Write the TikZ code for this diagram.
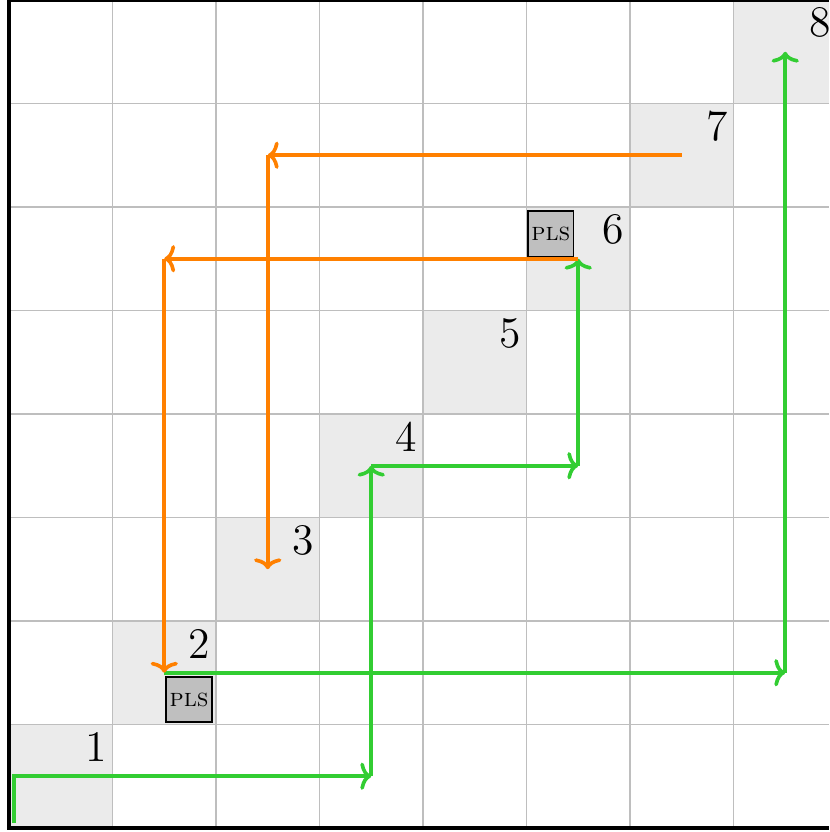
\documentclass[tikz,border=0pt]{standalone}
\usetikzlibrary{arrows.meta}
\definecolor{pgreen}{RGB}{50,205,50}
\definecolor{porange}{RGB}{255,128,0}
\definecolor{cellgray}{RGB}{235,235,235}
\definecolor{gridgray}{RGB}{190,190,190}
\definecolor{plsgray}{RGB}{191,191,191}
\begin{document}
\begin{tikzpicture}[x=1cm,y=1cm,
  numlabel/.style={font=\large, inner sep=0pt},
  plsbox/.style={draw=black, fill=plsgray, minimum size=0.44cm, inner sep=0pt, font=\scriptsize, line width=0.5pt},
  garrow/.style={draw=pgreen, line width=1pt, -{To[length=3pt,width=7.5pt]}},
  oarrow/.style={draw=porange, line width=1pt, -{To[length=3pt,width=7.5pt]}}]
\useasboundingbox (-0.087,-0.039) rectangle (7.923,8.0);
\clip (-0.087,-0.039) rectangle (7.923,8.0);
\foreach \i in {0,...,7} \fill[cellgray] (\i,\i) rectangle ++(1,1);
\draw[gridgray, line width=0.5pt] (0,0) grid (8,8);
\draw[black, line width=0.9pt] (0,0) rectangle (8,8);
\foreach \i [evaluate=\i as \n using int(\i+1)] in {0,...,7}
  \node[numlabel] (n\n) at (\i+0.84,\i+0.78) {\n};
\node[plsbox] (pls1) at (1.74,1.24) {\textsc{pls}};
\node[plsbox] (pls2) at (5.235,5.74) {\textsc{pls}};
\coordinate (s0) at (0.05,0.05);
\coordinate (a) at (3.5,0.5);
\coordinate (b) at (3.5,3.5);
\coordinate (c) at (5.5,3.5);
\coordinate (d) at (5.5,5.5);
\coordinate (e) at (1.5,5.5);
\coordinate (f) at (1.5,1.5);
\coordinate (g) at (7.5,1.5);
\coordinate (h) at (7.5,7.5);
\coordinate (i) at (6.5,6.5);
\coordinate (j) at (2.5,6.5);
\coordinate (k) at (2.5,2.5);
\draw[garrow] (s0) |- (a);
\draw[garrow] (a) -- (b);
\draw[garrow] (b) -- (c);
\draw[garrow] (c) -- (d);
\draw[garrow] (f) -- (g);
\draw[garrow] (g) -- (h);
\draw[oarrow] (d) -- (e);
\draw[oarrow] (e) -- (f);
\draw[oarrow] (i) -- (j);
\draw[oarrow] (j) -- (k);
\end{tikzpicture}
\end{document}
